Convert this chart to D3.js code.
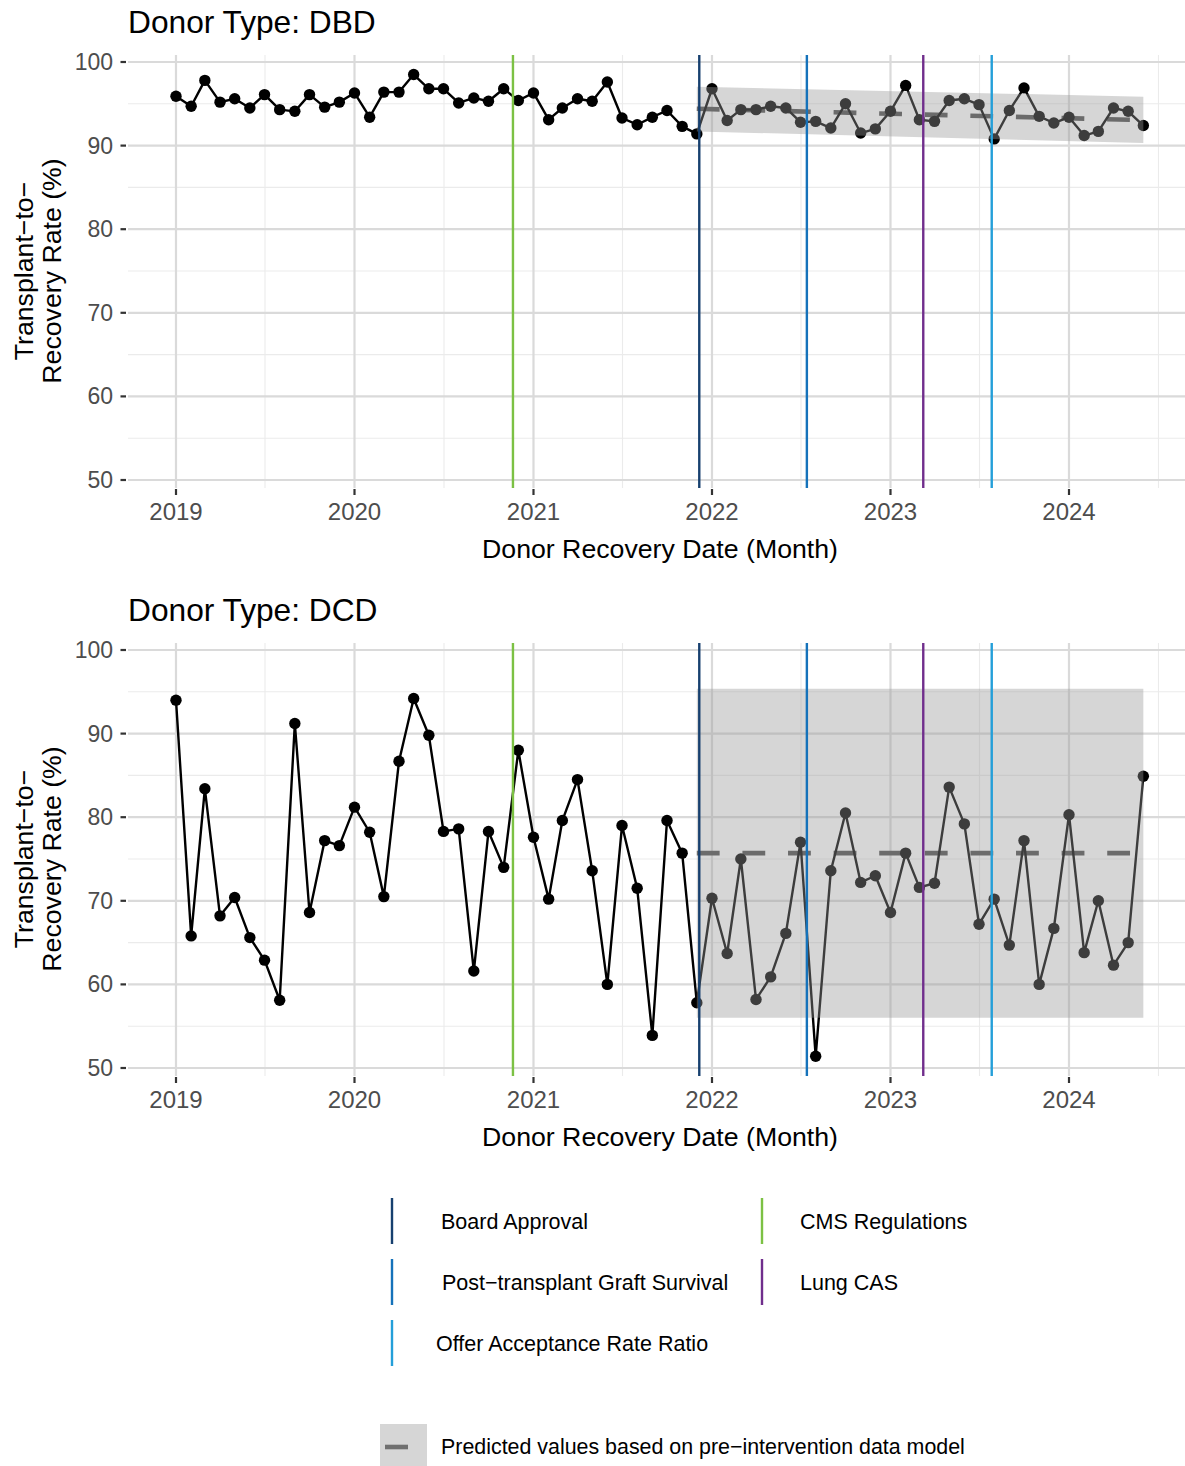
<!DOCTYPE html>
<html><head><meta charset="utf-8">
<script src="https://cdn.jsdelivr.net/npm/d3@7"></script>
<style>
body{margin:0;background:#fff}
svg{display:block}
text{font-family:"Liberation Sans",Arial,Helvetica,sans-serif}
</style>
</head><body>
<svg id="chart" width="1185" height="1466"></svg>
<script>
// ---------- DATA ----------
const firstMonth = "2019-01";
const lastMonth = "2024-06";
const dbdValues = [
  95.9, 94.7, 97.8, 95.2, 95.6, 94.5, 96.1, 94.3, 94.1, 96.1, 94.6, 95.2,
  96.3, 93.4, 96.4, 96.4, 98.5, 96.8, 96.8, 95.1, 95.7, 95.3, 96.8, 95.4,
  96.3, 93.1, 94.5, 95.6, 95.3, 97.6, 93.3, 92.5, 93.4, 94.2, 92.3, 91.4,
  96.8, 93.0, 94.3, 94.3, 94.7, 94.5, 92.8, 92.9, 92.1, 95.0, 91.5, 92.0,
  94.1, 97.2, 93.1, 92.9, 95.4, 95.6, 94.9, 90.8, 94.2, 96.9, 93.5, 92.7,
  93.4, 91.2, 91.7, 94.5, 94.1, 92.4
];
const dcdValues = [
  94.0, 65.8, 83.4, 68.2, 70.4, 65.6, 62.9, 58.1, 91.2, 68.6, 77.2, 76.6,
  81.2, 78.2, 70.5, 86.7, 94.2, 89.8, 78.3, 78.6, 61.6, 78.3, 74.0, 88.0,
  77.6, 70.2, 79.6, 84.5, 73.6, 60.0, 79.0, 71.5, 53.9, 79.6, 75.7, 57.8,
  70.3, 63.7, 75.0, 58.2, 60.9, 66.1, 77.0, 51.4, 73.6, 80.5, 72.2, 73.0,
  68.6, 75.7, 71.6, 72.1, 83.6, 79.2, 67.2, 70.2, 64.7, 77.2, 60.0, 66.7,
  80.3, 63.8, 70.0, 62.3, 65.0, 84.9
];
// prediction (straight line from model) at start / end of post-intervention period
const predDates = ["2021-12-01", "2024-06-01"];
const dbdPred  = [94.4, 93.05];
const dbdLower = [91.7, 90.3];
const dbdUpper = [97.05, 95.85];
const dcdPred  = [75.7, 75.7];
const dcdLower = [56.0, 56.0];
const dcdUpper = [95.35, 95.35];

const yTicks = [50, 60, 70, 80, 90, 100];
const yMinor = [55, 65, 75, 85, 95];
const xTickLabels = ["2019", "2020", "2021", "2022", "2023", "2024"];
const xMinorDates = ["2019-07-02", "2020-07-02", "2021-07-02", "2022-07-02", "2023-07-02", "2024-07-02"];

const interventionNames = ["CMS Regulations", "Board Approval", "Post\u2212transplant Graft Survival", "Lung CAS", "Offer Acceptance Rate Ratio"];
const interventionDates = ["2020-11-20", "2021-12-06", "2022-07-14", "2023-03-09", "2023-07-27"];

// ---------- STYLES ----------
const interventionColors = {
  "CMS Regulations": "#7cc144",
  "Board Approval": "#17406f",
  "Post\u2212transplant Graft Survival": "#1572ba",
  "Lung CAS": "#702e8c",
  "Offer Acceptance Rate Ratio": "#249fd9"
};

const parseDay = d3.timeParse("%Y-%m-%d");
const parseMonth = d3.timeParse("%Y-%m");
const months = d3.timeMonth.range(parseMonth(firstMonth), d3.timeMonth.offset(parseMonth(lastMonth), 1));

const svg = d3.select("#chart");
const panelLeft = 128, panelRight = 1185;

const x = d3.scaleTime()
  .domain([new Date(2019, 0, 1), new Date(2024, 0, 1)])
  .range([176, 1069]);

function drawPanel(offsetY, title, values, pred, lower, upper) {
  const g = svg.append("g").attr("transform", `translate(0,${offsetY})`);
  const panelTop = 55, panelBottom = 488;
  const y = d3.scaleLinear().domain([50, 100]).range([480, 62]);

  const clipId = "clip" + offsetY;
  g.append("clipPath").attr("id", clipId).append("rect")
    .attr("x", panelLeft).attr("y", panelTop)
    .attr("width", panelRight - panelLeft).attr("height", panelBottom - panelTop);
  const p = g.append("g").attr("clip-path", `url(#${clipId})`);

  // minor grid
  p.selectAll(".ymin").data(yMinor).join("line")
    .attr("x1", panelLeft).attr("x2", panelRight)
    .attr("y1", d => y(d)).attr("y2", d => y(d))
    .attr("stroke", "#ebebeb").attr("stroke-width", 1.1);
  p.selectAll(".xmin").data(xMinorDates).join("line")
    .attr("x1", d => x(parseDay(d))).attr("x2", d => x(parseDay(d)))
    .attr("y1", panelTop).attr("y2", panelBottom)
    .attr("stroke", "#ebebeb").attr("stroke-width", 1.1);
  // major grid
  p.selectAll(".ymaj").data(yTicks).join("line")
    .attr("x1", panelLeft).attr("x2", panelRight)
    .attr("y1", d => y(d)).attr("y2", d => y(d))
    .attr("stroke", "#dadada").attr("stroke-width", 2.2);
  p.selectAll(".xmaj").data(xTickLabels).join("line")
    .attr("x1", d => x(new Date(+d, 0, 1))).attr("x2", d => x(new Date(+d, 0, 1)))
    .attr("y1", panelTop).attr("y2", panelBottom)
    .attr("stroke", "#dadada").attr("stroke-width", 2.2);

  // predicted dashed line (under ribbon)
  const predPts = predDates.map((d, i) => [parseDay(d), pred[i]]);
  p.append("path")
    .attr("d", d3.line().x(d => x(d[0])).y(d => y(d[1]))(predPts))
    .attr("fill", "none").attr("stroke", "#4d4d4d")
    .attr("stroke-width", 4.6).attr("stroke-dasharray", "22.8,22.8");

  // data line + points
  const pts = months.map((m, i) => [m, values[i]]);
  p.append("path")
    .attr("d", d3.line().x(d => x(d[0])).y(d => y(d[1]))(pts))
    .attr("fill", "none").attr("stroke", "#000").attr("stroke-width", 2.4)
    .attr("stroke-linejoin", "round");
  p.selectAll(".pt").data(pts).join("circle")
    .attr("cx", d => x(d[0])).attr("cy", d => y(d[1])).attr("r", 5.7)
    .attr("fill", "#000");

  // ribbon
  const ribbonPts = predDates.map((d, i) => [parseDay(d), lower[i], upper[i]]);
  p.append("path")
    .attr("d", d3.area().x(d => x(d[0])).y0(d => y(d[1])).y1(d => y(d[2]))(ribbonPts))
    .attr("fill", "#999999").attr("fill-opacity", 0.4);

  // intervention lines
  p.selectAll(".vl").data(interventionNames).join("line")
    .attr("x1", (d, i) => x(parseDay(interventionDates[i])))
    .attr("x2", (d, i) => x(parseDay(interventionDates[i])))
    .attr("y1", panelTop).attr("y2", panelBottom)
    .attr("stroke", d => interventionColors[d]).attr("stroke-width", 2.4);

  // y axis ticks + labels
  g.selectAll(".yt").data(yTicks).join("line")
    .attr("x1", 120.5).attr("x2", 126).attr("y1", d => y(d)).attr("y2", d => y(d))
    .attr("stroke", "#333").attr("stroke-width", 2.2);
  g.selectAll(".yl").data(yTicks).join("text")
    .attr("x", 113).attr("y", d => y(d)).attr("dy", "0.35em")
    .attr("text-anchor", "end").attr("font-size", 23).attr("fill", "#4d4d4d")
    .text(d => d);

  // x axis ticks + labels
  g.selectAll(".xt").data(xTickLabels).join("line")
    .attr("x1", d => x(new Date(+d, 0, 1))).attr("x2", d => x(new Date(+d, 0, 1)))
    .attr("y1", 489).attr("y2", 495)
    .attr("stroke", "#333").attr("stroke-width", 2.2);
  g.selectAll(".xl").data(xTickLabels).join("text")
    .attr("x", d => x(new Date(+d, 0, 1))).attr("y", 519.5)
    .attr("text-anchor", "middle").attr("font-size", 24).attr("fill", "#4d4d4d")
    .text(d => d);

  // titles
  g.append("text").attr("x", 128).attr("y", 33)
    .attr("font-size", 31.7).attr("fill", "#000").text(title);
  g.append("text").attr("x", 660).attr("y", 558)
    .attr("text-anchor", "middle").attr("font-size", 26.7).attr("fill", "#000")
    .text("Donor Recovery Date (Month)");
  const yt = g.append("g").attr("transform", "translate(0,271) rotate(-90)");
  yt.append("text").attr("x", 0).attr("y", 32.5).attr("text-anchor", "middle")
    .attr("font-size", 26.7).text("Transplant\u2212to\u2212");
  yt.append("text").attr("x", 0).attr("y", 61).attr("text-anchor", "middle")
    .attr("font-size", 26.7).text("Recovery Rate (%)");
}

drawPanel(0, "Donor Type: DBD", dbdValues, dbdPred, dbdLower, dbdUpper);
drawPanel(588, "Donor Type: DCD", dcdValues, dcdPred, dcdLower, dcdUpper);

// ---------- LEGEND ----------
const legendOrder = ["Board Approval", "CMS Regulations", "Post\u2212transplant Graft Survival", "Lung CAS", "Offer Acceptance Rate Ratio"];
const legendKeyX = [392, 762];
const legendTextX = [[441, 800], [442, 800], [436, 800]];
const legendRowY = [1221, 1282, 1343];
const lg = svg.append("g");
legendOrder.forEach((name, i) => {
  const row = Math.floor(i / 2), col = i % 2;
  lg.append("line")
    .attr("x1", legendKeyX[col]).attr("x2", legendKeyX[col])
    .attr("y1", legendRowY[row] - 23).attr("y2", legendRowY[row] + 23)
    .attr("stroke", interventionColors[name]).attr("stroke-width", 2.4);
  lg.append("text")
    .attr("x", legendTextX[row][col]).attr("y", legendRowY[row]).attr("dy", "0.35em")
    .attr("font-size", 21.5).attr("fill", "#000").text(name);
});
lg.append("rect").attr("x", 380).attr("y", 1424).attr("width", 47).attr("height", 47)
  .attr("fill", "#999999").attr("fill-opacity", 0.4);
lg.append("line").attr("x1", 385).attr("x2", 408).attr("y1", 1447).attr("y2", 1447)
  .attr("stroke", "#4d4d4d").attr("stroke-opacity", 0.75).attr("stroke-width", 4.6);
lg.append("text").attr("x", 441).attr("y", 1447).attr("dy", "0.35em")
  .attr("font-size", 21.4).attr("fill", "#000")
  .text("Predicted values based on pre\u2212intervention data model");
</script>
</body></html>
